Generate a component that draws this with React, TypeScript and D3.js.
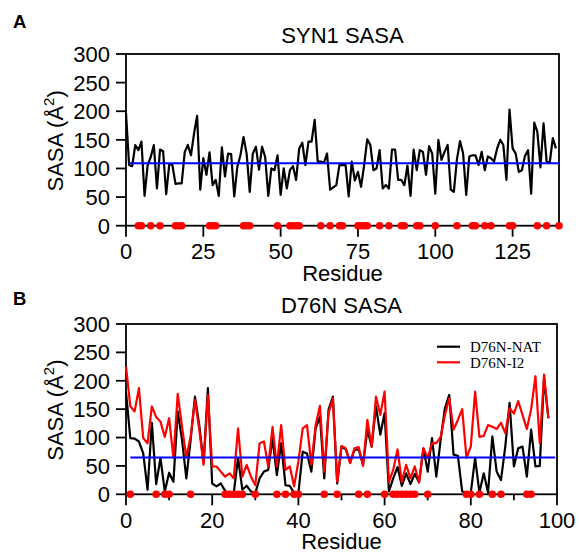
import React from 'react';
import * as d3 from 'd3';

// ---------- data ----------
const syn1Sasa = [
  197, 106, 104, 141, 132, 147, 52, 106, 120, 141, 65, 133, 130, 55, 108, 106, 73, 74, 74, 129,
  141, 123, 161, 192, 63, 118, 89, 128, 71, 80, 52, 137, 86, 126, 125, 51, 103, 123, 155, 126,
  59, 126, 138, 98, 138, 120, 52,
  100, 97, 123, 54, 100, 65, 97, 104, 80, 135, 145, 106, 147, 147, 185, 112, 112, 110, 126, 63,
  67, 71, 106, 106, 106, 51, 112, 79, 94, 68, 106, 151, 141, 97, 100, 132, 65, 71, 65, 133,
  133, 80, 80, 71, 105, 52, 133,
  97, 132, 129, 89, 139, 126, 56, 150, 115, 129, 141, 63, 59, 116, 148, 126, 54, 121, 123, 123,
  106, 129, 97, 121, 118, 112, 135, 150, 141, 80, 203, 135, 126, 94, 97, 122, 132, 56, 180, 164,
  102, 179, 112, 110, 153, 135,
];

const natSasa = [
  180, 99, 98, 93, 72, 8, 126, 18, 64, 5, 38, 22, 146, 96, 28, 96, 172, 122, 55, 187,
  19, 14, 19, 6, 2, 2, 64, 8, 15, 5, 2, 28, 40, 43, 99, 34, 90, 16, 15, 2,
  2, 75, 72, 40, 116, 137, 28, 149, 172, 19, 84, 79, 56, 78, 79, 52, 114, 84, 155, 105,
  143, 5, 28, 48, 15, 37, 18, 36, 21, 81, 40, 99, 31, 96, 152, 175, 70, 68, 5, 3,
  3, 64, 3, 37, 3, 102, 40, 25, 84, 161, 49, 81, 84, 31, 114, 49, 50, 205, 134,
];

const i2Sasa = [
  225, 155, 146, 187, 99, 90, 155, 136, 128, 101, 134, 64, 177, 119, 65, 102, 166, 114, 52, 175,
  49, 49, 40, 31, 37, 28, 116, 31, 52, 31, 16, 90, 93, 49, 119, 49, 122, 43, 49, 14,
  58, 116, 122, 52, 122, 156, 40, 143, 169, 22, 85, 81, 55, 81, 83, 50, 131, 84, 172, 140,
  181, 22, 43, 79, 22, 52, 28, 49, 21, 81, 64, 90, 90, 101, 140, 169, 114, 131, 150, 64,
  84, 181, 101, 103, 122, 119, 115, 126, 108, 152, 142, 164, 140, 115, 150, 208, 90, 211, 134,
];

const syn1Dots = [4, 5, 8, 11, 16, 17, 18, 27, 28, 29, 38, 39, 40, 49, 53, 54, 55, 56, 63, 66,
  69, 70, 75, 76, 77, 78, 82, 85, 89, 90, 94, 95, 100, 107, 112, 113, 116, 118, 124, 125, 133, 136, 140];
const d76nDots = [1, 7, 9, 10, 15, 23, 24, 25, 26, 27, 30, 35, 37, 39, 40, 46, 49, 54, 56, 60,
  62, 63, 64, 65, 66, 67, 70, 79, 80, 82, 85, 87, 93, 94];

const syn1Mean = 109;
const d76nMean = 65;
const syn1MeanSpan = [1, 140];
const d76nMeanSpan = [1, 99.6];

const yTicks = [0, 50, 100, 150, 200, 250, 300];
const syn1XTicks = [0, 25, 50, 75, 100, 125];
const d76nXTicks = [0, 20, 40, 60, 80, 100];
const d76nXMinor = [10, 30, 50, 70, 90];
const legendLabels = ['D76N-NAT', 'D76N-I2'];

const SANS = '"Liberation Sans", Arial, Helvetica, sans-serif';
const SERIF = '"Liberation Serif", "Times New Roman", serif';

type Series = { values: number[]; color: string };

function Panel(props: {
  letter: string;
  letterY: number;
  title: string;
  xDomain: [number, number];
  xRange: [number, number];
  yRange: [number, number];
  xTicks: number[];
  xMinor: number[];
  series: Series[];
  dots: number[];
  mean: number;
  meanSpan: number[];
  legend?: boolean;
}) {
  const { xRange, yRange } = props;
  const x = d3.scaleLinear().domain(props.xDomain).range(xRange);
  const y = d3.scaleLinear().domain([0, 300]).range(yRange);
  const left = xRange[0], right = xRange[1];
  const bottom = yRange[0], top = yRange[1];
  const line = d3.line<number>().x((_, i) => x(i)).y((d) => y(d));
  const cx = (left + right) / 2;
  const cy = (top + bottom) / 2;
  return (
    <g>
      <text x={13} y={props.letterY} fontFamily={SANS} fontWeight="bold" fontSize={18.5}>{props.letter}</text>
      <text x={cx} y={top - 11} textAnchor="middle" fontFamily={SANS} fontSize={22}>{props.title}</text>
      {/* frame */}
      <rect x={left} y={top} width={right - left} height={bottom - top} fill="none" stroke="#000" strokeWidth={1.8} />
      {/* y ticks */}
      {yTicks.map((t) => (
        <g key={'y' + t}>
          <line x1={left - 10} x2={left} y1={y(t)} y2={y(t)} stroke="#000" strokeWidth={1.8} />
          <text x={left - 16} y={y(t)} dy="0.36em" textAnchor="end" fontFamily={SANS} fontSize={22}>{t}</text>
        </g>
      ))}
      {/* x ticks */}
      {props.xTicks.map((t) => (
        <g key={'x' + t}>
          <line x1={x(t)} x2={x(t)} y1={bottom} y2={bottom + 11} stroke="#000" strokeWidth={1.8} />
          <text x={x(t)} y={bottom + 33.5} textAnchor="middle" fontFamily={SANS} fontSize={22}>{t}</text>
        </g>
      ))}
      {props.xMinor.map((t) => (
        <line key={'m' + t} x1={x(t)} x2={x(t)} y1={bottom} y2={bottom + 6} stroke="#000" strokeWidth={1.8} />
      ))}
      <text x={cx} y={bottom + 55} textAnchor="middle" fontFamily={SANS} fontSize={22}>Residue</text>
      <text transform={`translate(63,${cy + 1}) rotate(-90)`} textAnchor="middle" fontFamily={SANS} fontSize={22}>
        SASA (Å<tspan fontSize={15} dy={-9}>2</tspan><tspan dy={9}>)</tspan>
      </text>
      {/* data */}
      {props.series.map((s, i) => (
        <path key={'s' + i} d={line(s.values) || ''} fill="none" stroke={s.color} strokeWidth={2.2} strokeLinejoin="round" />
      ))}
      <line x1={x(props.meanSpan[0])} x2={x(props.meanSpan[1])} y1={y(props.mean)} y2={y(props.mean)} stroke="#0000ff" strokeWidth={2} />
      {props.dots.map((d) => (
        <circle key={'d' + d} cx={x(d)} cy={y(0)} r={3.8} fill="#ff0000" />
      ))}
      {props.legend && (
        <g>
          {props.series.map((s, i) => (
            <g key={'l' + i}>
              <line x1={437} x2={460} y1={top + 22.7 + i * 15.6} y2={top + 22.7 + i * 15.6} stroke={s.color} strokeWidth={2.2} />
              <text x={470} y={top + 28.2 + i * 15.6} fontFamily={SERIF} fontSize={15}>{legendLabels[i]}</text>
            </g>
          ))}
        </g>
      )}
    </g>
  );
}

export default function App() {
  return (
    <svg width={579} height={553} viewBox="0 0 579 553"
      style={{ position: 'absolute', left: 0, top: 0, background: '#fff' }}>
      <rect x={0} y={0} width={579} height={553} fill="#fff" />
      <Panel letter="A" letterY={28} title="SYN1 SASA" xDomain={[0, 140]} xRange={[126, 559]} yRange={[225.7, 54]}
        xTicks={syn1XTicks} xMinor={[]} series={[{ values: syn1Sasa, color: '#000' }]}
        dots={syn1Dots} mean={syn1Mean} meanSpan={syn1MeanSpan} />
      <Panel letter="B" letterY={305} title="D76N SASA" xDomain={[0, 100]} xRange={[126, 557]} yRange={[494.3, 324]}
        xTicks={d76nXTicks} xMinor={d76nXMinor}
        series={[{ values: natSasa, color: '#000' }, { values: i2Sasa, color: '#ff0000' }]}
        dots={d76nDots} mean={d76nMean} meanSpan={d76nMeanSpan} legend />
    </svg>
  );
}
